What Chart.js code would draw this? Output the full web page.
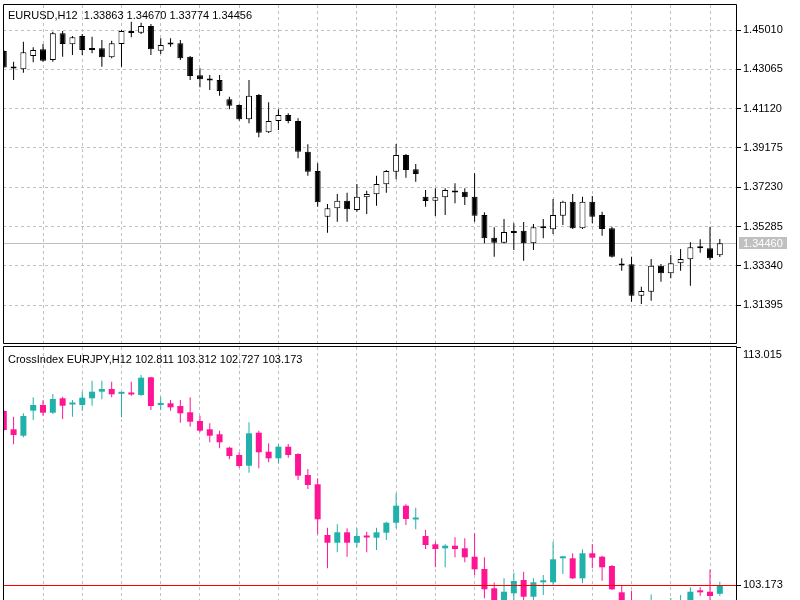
<!DOCTYPE html>
<html>
<head>
<meta charset="utf-8">
<title>EURUSD H12 / CrossIndex EURJPY</title>
<script src="https://cdn.jsdelivr.net/npm/chart.js"></script>
<style>
  body { margin: 0; background: #fff; width: 800px; height: 600px; overflow: hidden; position: relative; }
  canvas { position: absolute; left: 0; }
  #pricePane { top: 0; }
  #indexPane { top: 345px; }
</style>
</head>
<body>
<canvas id="pricePane" width="800" height="345"></canvas>
<canvas id="indexPane" width="800" height="255"></canvas>
<script>
// EURUSD H12 candles
const eurOpen  = [1.43971,1.43179,1.43065,1.43723,1.44055,1.43525,1.44847,1.44302,1.44713,1.44094,
                  1.44104,1.43659,1.44317,1.44911,1.44876,1.45208,1.43985,1.44342,1.44352,1.43688,
                  1.42768,1.42560,1.42535,1.41580,1.41298,1.40590,1.41793,1.39946,1.40506,1.40803,
                  1.40506,1.38986,1.38031,1.35768,1.36184,1.36560,1.36100,1.36729,1.36877,1.37372,
                  1.37996,1.38823,1.38115,1.36758,1.36560,1.36729,1.37040,1.37006,1.36758,1.35853,
                  1.34729,1.34481,1.35011,1.35075,1.34452,1.35194,1.35144,1.35818,1.36511,1.35194,
                  1.36511,1.35853,1.35194,1.33402,1.33412,1.31858,1.32056,1.33343,1.32967,1.33461,
                  1.33660,1.34254,1.34204,1.33863];
const eurHigh  = [1.44020,1.43441,1.44431,1.44154,1.44317,1.44926,1.44961,1.44713,1.44812,1.44678,
                  1.44515,1.44480,1.45010,1.45421,1.45371,1.45307,1.44599,1.44599,1.44515,1.43723,
                  1.43114,1.42783,1.42783,1.41708,1.41332,1.42535,1.41842,1.41431,1.41085,1.40887,
                  1.40639,1.39352,1.38412,1.36397,1.36892,1.36956,1.37387,1.37055,1.37798,1.38080,
                  1.39367,1.38872,1.38377,1.37090,1.37174,1.37174,1.37422,1.37174,1.37917,1.35986,
                  1.35244,1.35655,1.35442,1.35506,1.35407,1.35655,1.36645,1.36560,1.36892,1.36758,
                  1.36793,1.36016,1.35273,1.33709,1.33789,1.32304,1.33675,1.33427,1.33873,1.34170,
                  1.34501,1.34650,1.35273,1.34670];
const eurLow   = [1.43129,1.42535,1.42897,1.43411,1.43441,1.43441,1.43688,1.43773,1.43773,1.43857,
                  1.43193,1.43609,1.43193,1.44649,1.44812,1.43773,1.43822,1.44178,1.43525,1.42535,
                  1.42174,1.42040,1.41758,1.41085,1.40523,1.40392,1.39699,1.39912,1.40060,1.40392,
                  1.38659,1.37798,1.36263,1.34976,1.35521,1.35521,1.36016,1.35902,1.36313,1.36956,
                  1.37620,1.37699,1.37501,1.36263,1.35803,1.35853,1.36431,1.36348,1.35521,1.34452,
                  1.33789,1.34452,1.34120,1.33590,1.34120,1.34699,1.34912,1.35358,1.35160,1.35160,
                  1.35442,1.34828,1.33749,1.33095,1.31561,1.31447,1.31610,1.32551,1.32719,1.33095,
                  1.32353,1.33986,1.33625,1.33774];
const eurClose = [1.43154,1.43104,1.43906,1.44020,1.43490,1.44847,1.44317,1.44649,1.44020,1.44020,
                  1.43659,1.44352,1.44961,1.44862,1.45208,1.44055,1.44268,1.44292,1.43609,1.42733,
                  1.42570,1.42510,1.41990,1.41263,1.40590,1.41758,1.39926,1.40506,1.40803,1.40506,
                  1.38986,1.37996,1.36481,1.36184,1.36560,1.36135,1.36758,1.36892,1.37387,1.38031,
                  1.38823,1.38080,1.37882,1.36546,1.36729,1.37090,1.36966,1.36729,1.35818,1.34699,
                  1.34481,1.35006,1.34962,1.34452,1.35244,1.35244,1.35853,1.36511,1.35194,1.36511,
                  1.35768,1.35160,1.33789,1.33353,1.31858,1.32090,1.33343,1.32967,1.33461,1.33675,
                  1.34254,1.34204,1.33709,1.34456];

// CrossIndex EURJPY H12 candles
const idxOpen  = [110.368,109.612,109.347,110.381,110.617,110.298,110.894,110.637,110.617,110.894,
                  111.167,111.278,111.080,111.133,111.030,111.762,110.617,110.687,110.575,110.315,
                  109.955,109.612,109.405,108.851,108.549,108.106,109.471,108.685,108.412,108.892,
                  108.590,107.722,107.337,105.241,104.922,105.352,104.922,105.199,105.129,105.336,
                  105.749,106.452,105.882,105.199,104.856,104.691,104.798,104.691,104.343,103.835,
                  103.037,102.387,102.830,103.380,102.689,103.285,103.285,104.277,104.277,103.450,
                  104.484,104.343,103.959,102.871,102.511,101.188,101.354,102.470,102.139,102.429,
                  102.429,102.913,102.896,102.811];
const idxHigh  = [110.410,110.133,110.273,110.935,110.823,111.071,110.960,110.823,111.167,111.621,
                  111.621,111.580,111.167,111.580,111.857,111.787,110.935,110.823,110.823,110.935,
                  110.174,109.860,109.554,108.892,108.661,109.901,109.554,109.033,108.991,109.004,
                  108.619,107.970,107.585,105.543,105.683,105.518,105.518,105.377,105.543,105.791,
                  106.965,106.510,106.370,105.447,104.964,104.856,105.146,105.104,105.311,104.319,
                  103.276,103.450,103.682,103.723,103.450,103.587,104.964,104.385,104.484,104.649,
                  104.869,104.385,104.000,103.173,102.937,101.560,102.780,102.511,102.635,102.760,
                  103.078,103.078,103.814,103.312];
const idxLow   = [109.541,108.991,109.281,109.996,110.174,110.244,110.038,110.133,110.381,110.588,
                  110.852,110.935,110.108,111.001,111.001,110.410,110.410,110.381,109.885,109.719,
                  109.488,109.074,108.826,108.371,108.024,107.817,107.999,108.247,108.206,108.437,
                  107.515,107.143,105.270,103.864,104.525,104.343,104.732,104.525,104.620,105.034,
                  105.518,105.654,105.476,104.662,103.905,103.905,104.319,104.112,103.587,102.623,
                  102.139,102.222,102.553,102.553,102.553,102.760,103.173,103.628,103.421,103.243,
                  103.864,103.351,102.966,102.222,100.940,100.857,101.064,101.808,101.932,102.139,
                  101.519,102.731,102.470,102.727];
const idxClose = [109.583,109.376,110.162,110.617,110.298,110.865,110.588,110.679,110.918,111.167,
                  111.278,111.059,111.113,111.051,111.745,110.575,110.658,110.521,110.273,109.926,
                  109.554,109.347,109.074,108.508,108.094,109.446,108.661,108.412,108.892,108.549,
                  107.693,107.308,105.890,104.922,105.352,104.922,105.199,105.137,105.352,105.749,
                  106.452,105.902,105.923,104.827,104.662,104.798,104.662,104.319,103.822,102.995,
                  102.470,102.896,103.338,102.689,103.285,103.326,104.236,104.319,103.450,104.484,
                  104.302,103.905,102.995,102.429,101.188,101.354,102.470,102.139,102.429,102.553,
                  102.896,102.871,102.718,103.173];

// axis values
const priceTicks = [1.31395, 1.33340, 1.35285, 1.37230, 1.39175, 1.41120, 1.43065, 1.45010];
const priceRange = [1.29517, 1.46248];
const indexRange = [102.553, 113.015];
const askPrice = 1.34460;
const indexLevel = 103.173;
const gridCandles = [4, 8, 12, 16, 20, 24, 28, 32, 36, 40, 44, 48, 52, 56, 60, 64, 68, 72];

const labelFont = { family: '"Liberation Sans", Arial, sans-serif', size: 11 };
const fontCss = '11px "Liberation Sans", Arial, sans-serif';
const gridColor = '#c0c0c0';
const teal = '#20b2aa';
const pink = '#ff1493';

Chart.defaults.font = labelFont;

// body + wick as two floating bar series on the same x
function candleDatasets(open, high, low, close, look) {
    const up = close.map((c, i) => c >= open[i]);
    return [
        {
            label: 'body',
            data: open.map((o, i) => ({ x: i, y: [o, close[i]] })),
            backgroundColor: up.map(u => u ? look.upFill : look.downFill),
            borderColor: up.map(u => u ? look.upLine : look.downLine),
            borderWidth: look.borderWidth,
            borderSkipped: false,
            barThickness: 6,
            minBarLength: 2,
            inflateAmount: 0,
            grouped: false,
            order: 0
        },
        {
            label: 'wick',
            data: low.map((l, i) => ({ x: i, y: [l, high[i]] })),
            backgroundColor: up.map(u => u ? look.upLine : look.downLine),
            borderWidth: 0,
            barThickness: 1,
            inflateAmount: 0,
            grouped: false,
            order: 1
        }
    ];
}

function header(name, o, h, l, c, digits) {
    const n = o.length - 1;
    return name + ' ' + [o[n], h[n], l[n], c[n]].map(v => v.toFixed(digits)).join(' ');
}

function drawLevel(chart, level) {
    const { ctx, chartArea: a } = chart;
    const y = Math.round(chart.scales.y.getPixelForValue(level.value));
    ctx.save();
    ctx.fillStyle = level.stroke;
    ctx.fillRect(a.left, y, a.right - a.left, 1);
    if (level.box) {
        ctx.fillRect(a.right + 3, y - 6, 48, 12);
        ctx.fillStyle = '#fff';
        ctx.font = fontCss;
        ctx.textBaseline = 'middle';
        ctx.textAlign = 'left';
        ctx.fillText(level.value.toFixed(5), a.right + 7, y + 1);
    }
    ctx.restore();
}

// frame, header text, current price line and its label (one plugin per pane)
function paneDecor(cfg) {
    return {
        id: 'paneDecor',
        beforeDatasetsDraw(chart) {
            if (!cfg.level.onTop) drawLevel(chart, cfg.level);
        },
        afterDatasetsDraw(chart) {
            if (cfg.level.onTop) drawLevel(chart, cfg.level);
        },
        afterDraw(chart) {
            const { ctx, chartArea: a } = chart;
            const bottom = cfg.closed ? a.bottom + 0.5 : chart.height;
            ctx.save();
            ctx.strokeStyle = '#000';
            ctx.lineWidth = 1;
            ctx.beginPath();
            ctx.moveTo(a.left + 0.5, bottom);
            ctx.lineTo(a.left + 0.5, a.top - 0.5);
            ctx.lineTo(a.right + 0.5, a.top - 0.5);
            ctx.lineTo(a.right + 0.5, bottom);
            if (cfg.closed) ctx.lineTo(a.left + 0.5, bottom);
            ctx.stroke();

            ctx.font = fontCss;
            ctx.fillStyle = '#000';
            ctx.textBaseline = 'alphabetic';
            ctx.textAlign = 'left';
            ctx.fillText(cfg.title, a.left + 5, a.top + cfg.titleDrop);

            if (cfg.maxLabel) {
                ctx.beginPath();
                ctx.moveTo(a.right, a.top + 0.5);
                ctx.lineTo(a.right + 5, a.top + 0.5);
                ctx.stroke();
                ctx.fillText(chart.scales.y.max.toFixed(3), a.right + 7, a.top + 11);
            }
            ctx.restore();
        }
    };
}

// the axes may not push the plot area around: its edges are fixed by layout padding
function noScalePadding(s) {
    s.paddingTop = 0;
    s.paddingBottom = 0;
    s.paddingLeft = 0;
    s.paddingRight = 0;
}

function paneOptions(range, ticks, digits, padTop, padBottom, hGrid) {
    return {
        responsive: false,
        animation: false,
        events: [],
        layout: { autoPadding: false, padding: { left: 3, top: padTop, right: 0, bottom: padBottom } },
        plugins: { legend: { display: false }, tooltip: { enabled: false } },
        scales: {
            x: {
                type: 'linear',
                min: -0.08,
                max: 74.65,
                offset: false,
                bounds: 'data',
                afterBuildTicks: s => { s.ticks = gridCandles.map(v => ({ value: v })); },
                afterFit: s => { s.height = 0; noScalePadding(s); },
                grid: { color: gridColor, offset: false, drawTicks: false },
                border: { display: false, dash: [3, 3] },
                ticks: { display: false }
            },
            y: {
                position: 'right',
                min: range[0],
                max: range[1],
                bounds: 'data',
                afterBuildTicks: s => { s.ticks = ticks.map(v => ({ value: v })); },
                afterFit: s => { s.width = 64; noScalePadding(s); },
                grid: {
                    color: gridColor,
                    drawOnChartArea: hGrid,
                    tickColor: '#000',
                    tickLength: 5
                },
                border: { display: false, dash: [3, 3] },
                ticks: {
                    autoSkip: false,
                    padding: 2,
                    color: '#000',
                    font: labelFont,
                    callback: v => Number(v).toFixed(digits)
                }
            }
        }
    };
}

new Chart(document.getElementById('pricePane'), {
    type: 'bar',
    data: {
        datasets: candleDatasets(eurOpen, eurHigh, eurLow, eurClose,
            { upFill: '#fff', downFill: '#000', upLine: '#000', downLine: '#000', borderWidth: 1 })
    },
    options: paneOptions(priceRange, priceTicks, 5, 5, 2, true),
    plugins: [paneDecor({
        title: header('EURUSD,H12 ', eurOpen, eurHigh, eurLow, eurClose, 5),
        titleDrop: 14,
        closed: true,
        maxLabel: false,
        level: { value: askPrice, stroke: '#c0c0c0', box: true, onTop: false }
    })]
});

new Chart(document.getElementById('indexPane'), {
    type: 'bar',
    data: {
        datasets: candleDatasets(idxOpen, idxHigh, idxLow, idxClose,
            { upFill: teal, downFill: pink, upLine: teal, downLine: pink, borderWidth: 0 })
    },
    options: paneOptions(indexRange, [indexLevel], 3, 2, 0, false),
    plugins: [paneDecor({
        title: header('CrossIndex EURJPY,H12', idxOpen, idxHigh, idxLow, idxClose, 3),
        titleDrop: 16,
        closed: false,
        maxLabel: true,
        level: { value: indexLevel, stroke: '#ff0000', box: false, onTop: true }
    })]
});
</script>
</body>
</html>
